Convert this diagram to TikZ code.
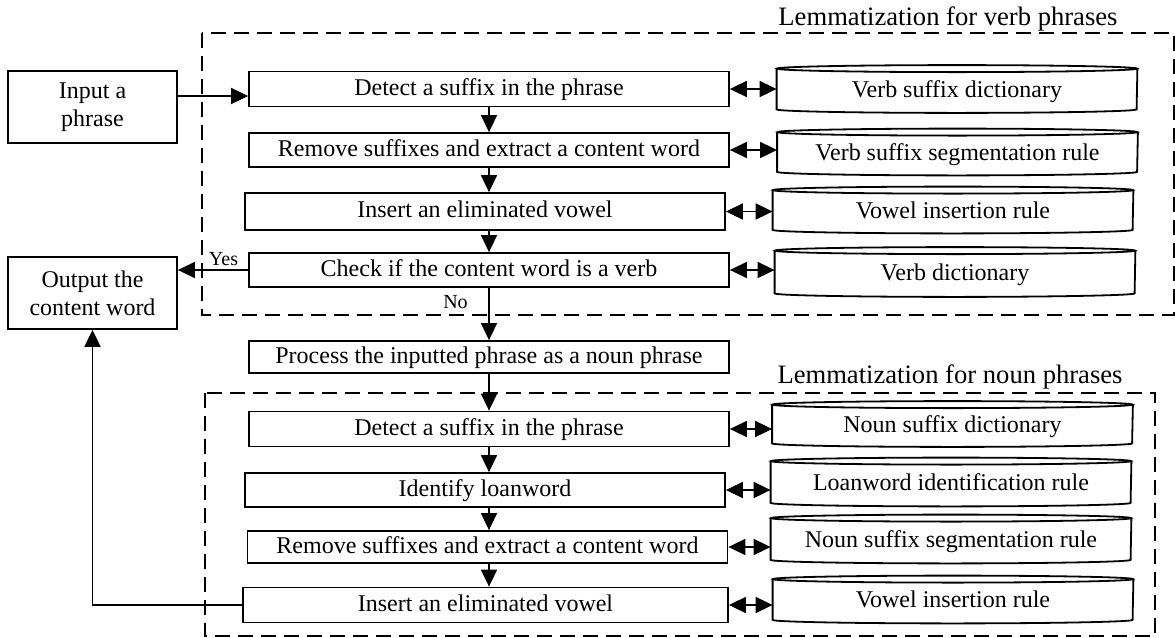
\documentclass[tikz,border=0pt]{standalone}
\usepackage{fontspec}
\setmainfont{Liberation Serif}
\usetikzlibrary{arrows.meta,calc}

\tikzset{
  proc/.style={draw, line width=0.9pt, minimum width=240pt, minimum height=17.5pt,
    inner sep=0pt, text height=8.5pt, text depth=2.5pt, font=\fontsize{12}{14}\selectfont},
  term/.style={draw, line width=0.9pt, minimum width=84.5pt, minimum height=36pt,
    align=center, inner sep=0pt, font=\fontsize{12}{14}\selectfont},
  dbase/.style={minimum width=180pt, inner sep=0pt, text height=8.5pt, text depth=0.5pt,
    font=\fontsize{12}{14}\selectfont},
  group/.style={draw, line width=0.9pt, dash pattern=on 7.5pt off 4pt},
  arr/.style={line width=0.9pt, -{Triangle[length=8.5pt,width=8pt]}},
  darr/.style={line width=0.9pt, {Triangle[length=8.5pt,width=8pt]}-{Triangle[length=8.5pt,width=8pt]}},
  lbl/.style={font=\fontsize{10}{12}\selectfont, anchor=base},
  ttl/.style={font=\fontsize{13.3}{15}\selectfont, anchor=base}
}

\begin{document}
\begin{tikzpicture}[x=0.5pt, y=-0.5pt]
    \useasboundingbox (0,0) rectangle (1175,638);

    % Rahmen der beiden Teilschritte
    \draw[group] (202,33) rectangle (1174,315);
    \draw[group] (205,393) rectangle (1155,636);
    \node[ttl] (tv) at (948,25)  {Lemmatization for verb phrases};
    \node[ttl] (tn) at (950,383) {Lemmatization for noun phrases};

    % Ein- und Ausgabe
    \node[term] (inp) at (92.5,107) {Input a\\phrase};
    \node[term] (out) at (92.5,293) {Output the\\content word};

    % Verbphrasen
    \node[proc] (vd1) at (489,89)    {Detect a suffix in the phrase};
    \node[proc, minimum height=17pt]   (vd2) at (489,150)   {Remove suffixes and extract a content word};
    \node[proc, minimum height=18.5pt] (vd3) at (485,211.5) {Insert an eliminated vowel};
    \node[proc, minimum height=17pt]   (vd4) at (489,270)   {Check if the content word is a verb};

    \node[proc, minimum height=16pt] (np) at (489,357) {Process the inputted phrase as a noun phrase};

    % Nominalphrasen
    \node[proc] (nd1) at (489,429) {Detect a suffix in the phrase};
    \node[proc, minimum height=17pt] (nd2) at (485,490)   {Identify loanword};
    \node[proc, minimum height=16pt] (nd3) at (487.5,547) {Remove suffixes and extract a content word};
    \node[proc, minimum width=242.5pt] (nd4) at (485.5,605) {Insert an eliminated vowel};

    % Woerterbuecher und Regeln
    \node[dbase, minimum height=20pt]   (c1) at (957,89)    {Verb suffix dictionary};
    \node[dbase, minimum height=19.5pt] (c2) at (957.5,152) {Verb suffix segmentation rule};
    \node[dbase, minimum height=19.5pt] (c3) at (953,210)   {Vowel insertion rule};
    \node[dbase, minimum height=21pt]   (c4) at (955,272)   {Verb dictionary};
    \node[dbase, minimum height=19pt]   (c5) at (952.5,424) {Noun suffix dictionary};
    \node[dbase, minimum height=20.5pt] (c6) at (951,482)   {Loanword identification rule};
    \node[dbase, minimum height=20.5pt] (c7) at (951,539)   {Noun suffix segmentation rule};
    \node[dbase, minimum height=20pt]   (c8) at (953,599.5) {Vowel insertion rule};

    \foreach \c in {c1,c2,c3,c4,c5,c6,c7,c8} {
        \draw[line width=0.9pt] (\c.north west) -- (\c.south west)
            arc[start angle=180, end angle=360, x radius=90pt, y radius=1.75pt]
            -- (\c.north east);
        \draw[line width=0.9pt] (\c.north) ellipse [x radius=90pt, y radius=1.75pt];
    }

    % Ablauf
    \draw[arr] ([yshift=5.5pt]inp.east) -- ([yshift=5.5pt]inp.east -| vd1.west);
    \draw[arr] (vd1.south -| 489,0) -- (vd2.north -| 489,0);
    \draw[arr] (vd2.south -| 489,0) -- (vd3.north -| 489,0);
    \draw[arr] (vd3.south -| 489,0) -- (vd4.north -| 489,0);
    \draw[arr] (vd4.south -| 489,0) -- (np.north -| 489,0);
    \draw[arr] (np.south -| 489,0) -- (nd1.north -| 489,0);
    \draw[arr] (nd1.south -| 489,0) -- (nd2.north -| 489,0);
    \draw[arr] (nd2.south -| 489,0) -- (nd3.north -| 489,0);
    \draw[arr] (nd3.south -| 489,0) -- (nd4.north -| 489,0);
    \draw[arr] (vd4.west) -- (vd4.west -| out.east);
    \draw[arr] (nd4.west) -| (out.south);
    \node[lbl] (yes) at (223.5,265) {Yes};
    \node[lbl] (no)  at (455.5,308) {No};

    % Zugriffe
    \foreach \p/\c in {vd1/c1,vd2/c2,vd3/c3,vd4/c4,nd1/c5,nd2/c6,nd3/c7,nd4/c8} {
        \draw[darr] (\p.east) -- (\p.east -| \c.west);
    }
\end{tikzpicture}
\end{document}
